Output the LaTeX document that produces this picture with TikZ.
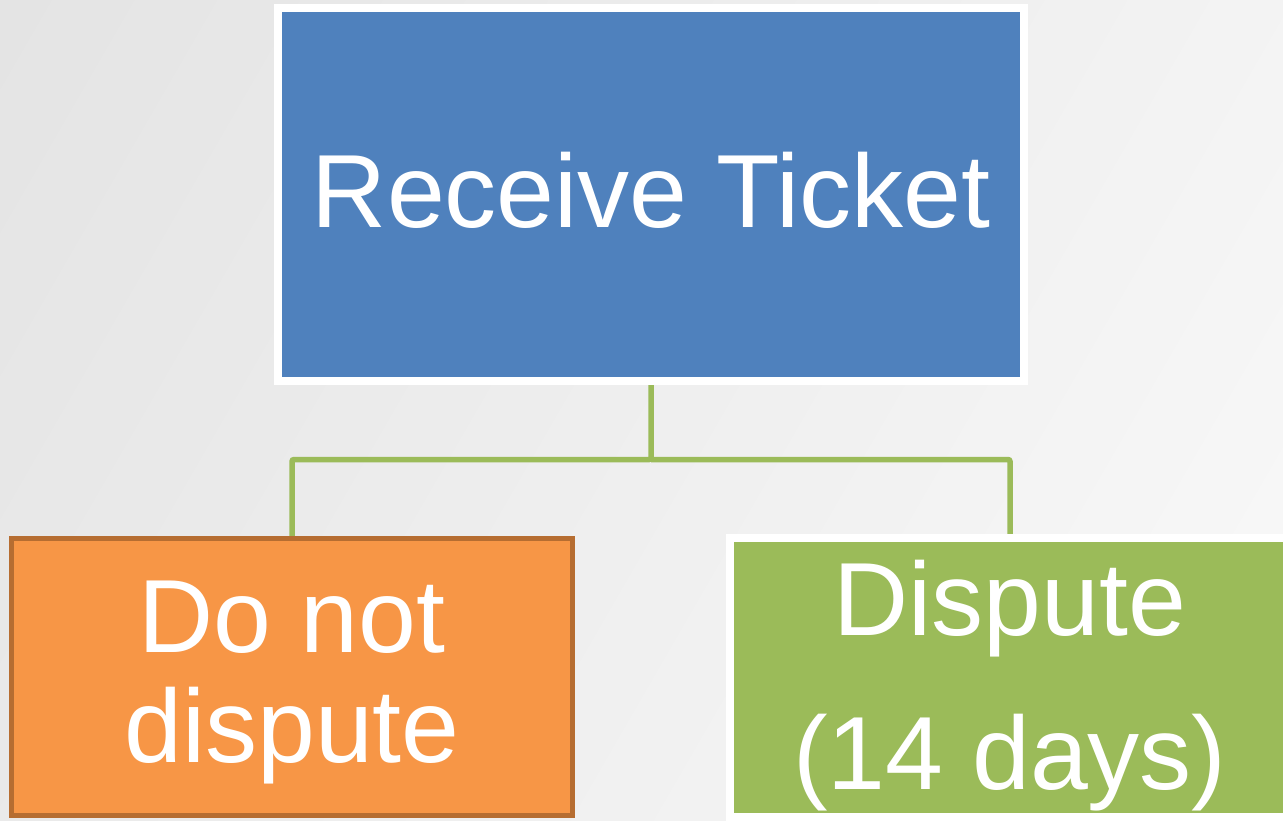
\documentclass[tikz,border=0pt]{standalone}
\usepackage{fontspec}
\setmainfont{Liberation Sans}
\usetikzlibrary{shadows,backgrounds}
\definecolor{bgA}{HTML}{E4E4E4}
\definecolor{bgB}{HTML}{F9F9F9}
\definecolor{blueF}{HTML}{4F81BD}
\definecolor{orangeF}{HTML}{F79646}
\definecolor{orangeD}{HTML}{B66D31}
\definecolor{greenF}{HTML}{9BBB59}
\tikzset{
  boxbase/.style={rectangle, inner sep=0pt},
  bluebox/.style={boxbase, fill=blueF, draw=white, line width=8pt,
    drop shadow={opacity=0.35, shadow xshift=2pt, shadow yshift=-3pt}},
  orangebox/.style={boxbase, fill=orangeF, draw=orangeD, line width=5pt},
  greenbox/.style={boxbase, fill=greenF, draw=white, line width=8pt,
    drop shadow={opacity=0.25, shadow xshift=-1pt, shadow yshift=-2pt}},
  lbl/.style={inner sep=0pt, text=white, align=center,
    font=\fontsize{104}{110}\selectfont, anchor=north},
  conn/.style={draw=greenF, line width=5.5pt, rounded corners=2pt}
}
\begin{document}
\begin{tikzpicture}[x=1pt,y=-1pt]
\useasboundingbox (0,0) rectangle (1283,821);
% boxes
\node[bluebox, minimum width=746pt, minimum height=372.5pt] (rt) at (651,194.25) {};
\node[orangebox, minimum width=561pt, minimum height=277pt] (dn) at (292,677) {};
\node[greenbox, minimum width=561pt, minimum height=278.5pt] (dp) at (1010,677.25) {};
% labels
\node[lbl] (rtt) at (651,151.5) {Receive Ticket};
\node[lbl] (dnt) at (292,580.5) {Do not\\dispute};
\node[lbl] (dpt) at (1010,559.5) {Dispute\\[44pt](14 days)};
% junction of the connector
\coordinate (jn) at (651,459.5);
\begin{pgfonlayer}{background}
  \clip (0,0) rectangle (1283,821);
  \shade[shading=axis, left color=bgA, right color=bgB, shading angle=60]
    (-200,-200) rectangle (1483,1021);
  \draw[conn] (rt.south) -- (jn) -| (dn.north);
  \draw[conn] (jn) -| (dp.north);
\end{pgfonlayer}
\end{tikzpicture}
\end{document}
